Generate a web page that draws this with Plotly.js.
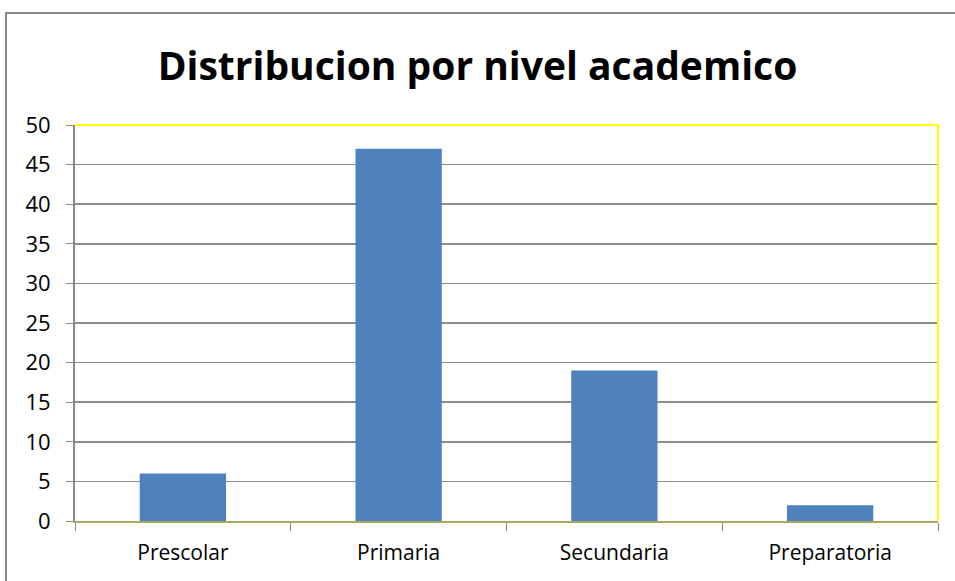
<!DOCTYPE html>
<html><head><meta charset="utf-8">
<script src="https://cdn.plot.ly/plotly-3.0.1.min.js"></script>
<style>html,body{margin:0;padding:0;background:#fff}#chart{width:955px;height:581px}</style>
</head><body><div id="chart"></div>
<script>
const categories = ["Prescolar", "Primaria", "Secundaria", "Preparatoria"];
const values = [6, 47, 19, 2];
const chartTitle = "Distribucion por nivel academico";

const trace = {
  type: "bar", x: categories, y: values,
  marker: {color: "#4f81bd"}, hoverinfo: "x+y"
};
const layout = {
  width: 955, height: 581,
  margin: {l: 75, r: 17, t: 125, b: 60},
  paper_bgcolor: "#fff", plot_bgcolor: "#fff",
  bargap: 0.6,
  showlegend: false,
  title: {text: "<b>" + chartTitle + "</b>", x: 0.5, xanchor: "center", y: 0.885, yanchor: "middle",
    font: {family: "Open Sans", size: 39, color: "#000"}},
  xaxis: {
    type: "category", tickson: "boundaries", ticks: "outside", ticklen: 8, tickcolor: "#888",
    showline: true, linecolor: "#aaa760", linewidth: 2, showgrid: false, ticklabelstandoff: 12,
    tickfont: {family: "Open Sans", size: 21, color: "#000"}, zeroline: false
  },
  yaxis: {
    range: [0, 50], dtick: 5, ticks: "outside", ticklen: 7, tickcolor: "#888",
    showline: true, linecolor: "#888", linewidth: 2, ticklabelstandoff: 11,
    showgrid: true, gridcolor: "#8c8c8c", gridwidth: 1.5, zeroline: false,
    tickfont: {family: "Open Sans", size: 22, color: "#000"}
  },
  shapes: [
    {type: "line", xref: "paper", yref: "paper", x0: 0, x1: 1, y0: 1, y1: 1, line: {color: "#ffff00", width: 2}},
    {type: "line", xref: "paper", yref: "paper", x0: 1, x1: 1, y0: 0, y1: 1, line: {color: "#ffff00", width: 2}},
    {type: "rect", xref: "paper", yref: "paper", x0: -69/863, x1: 885/863, y0: -69/396, y1: 508/396,
     line: {color: "#888", width: 2}, fillcolor: "rgba(0,0,0,0)", layer: "below"}
  ]
};
Plotly.newPlot("chart", [trace], layout, {displayModeBar: false, staticPlot: true});
</script></body></html>
